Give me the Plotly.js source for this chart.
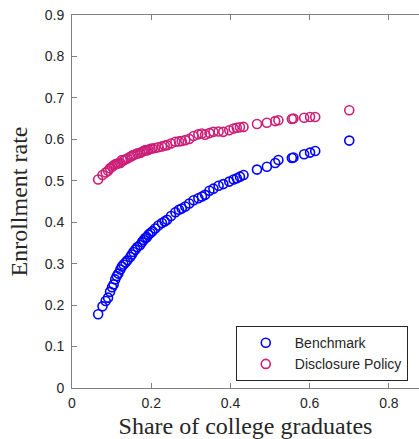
<!DOCTYPE html>
<html>
<head>
<meta charset="utf-8">
<script src="https://cdn.plot.ly/plotly-3.0.1.min.js"></script>
<style>html,body{margin:0;padding:0;background:#fff;}#chart{width:419px;height:439px;}</style>
</head>
<body>
<div id="chart"></div>
<script>
// Share of college graduates (shared by both series)
const shareGrad = [0.066, 0.077, 0.085, 0.091, 0.096, 0.101, 0.105, 0.109, 0.113, 0.117,
  0.122, 0.126, 0.130, 0.135, 0.140, 0.147, 0.151, 0.155, 0.160, 0.165,
  0.172, 0.177, 0.181, 0.185, 0.189, 0.193, 0.198, 0.203, 0.210, 0.218,
  0.227, 0.234, 0.240, 0.250, 0.261, 0.270, 0.277, 0.286, 0.296, 0.307,
  0.319, 0.328, 0.336, 0.347, 0.357, 0.370, 0.382, 0.397, 0.408, 0.416,
  0.424, 0.433, 0.467, 0.492, 0.513, 0.521, 0.555, 0.559, 0.586, 0.601,
  0.614, 0.700];
// Enrollment rate, Benchmark
const benchmark = [0.178, 0.197, 0.210, 0.218, 0.232, 0.243, 0.250, 0.262, 0.270, 0.276,
  0.286, 0.293, 0.298, 0.303, 0.308, 0.316, 0.322, 0.328, 0.334, 0.340,
  0.345, 0.352, 0.357, 0.362, 0.364, 0.370, 0.374, 0.378, 0.385, 0.392,
  0.398, 0.402, 0.406, 0.415, 0.424, 0.430, 0.433, 0.438, 0.445, 0.453,
  0.458, 0.462, 0.466, 0.476, 0.481, 0.488, 0.492, 0.498, 0.503, 0.506,
  0.510, 0.514, 0.527, 0.534, 0.543, 0.550, 0.555, 0.556, 0.564, 0.568,
  0.572, 0.597];
// Enrollment rate, Disclosure Policy
const disclosure = [0.503, 0.514, 0.520, 0.524, 0.530, 0.534, 0.537, 0.540, 0.541, 0.542,
  0.543, 0.550, 0.549, 0.552, 0.554, 0.558, 0.560, 0.562, 0.564, 0.566,
  0.567, 0.570, 0.572, 0.574, 0.573, 0.575, 0.577, 0.578, 0.579, 0.581,
  0.583, 0.585, 0.586, 0.590, 0.594, 0.595, 0.596, 0.598, 0.601, 0.608,
  0.612, 0.614, 0.611, 0.615, 0.618, 0.619, 0.618, 0.622, 0.626, 0.628,
  0.629, 0.630, 0.637, 0.640, 0.644, 0.646, 0.649, 0.650, 0.652, 0.654,
  0.654, 0.670];
const xTicks = [0, 0.2, 0.4, 0.6, 0.8];
const xTickLabels = ['0', '0.2', '0.4', '0.6', '0.8'];
const yTicks = [0, 0.1, 0.2, 0.3, 0.4, 0.5, 0.6, 0.7, 0.8, 0.9];
const yTickLabels = ['0', '0.1', '0.2', '0.3', '0.4', '0.5', '0.6', '0.7', '0.8', '0.9'];

const traces = [
  {x: shareGrad, y: benchmark, name: 'Benchmark', type: 'scatter', mode: 'markers',
   marker: {symbol: 'circle-open', size: 9, color: '#0000ff', line: {width: 1.6, color: '#0000ff'}}},
  {x: shareGrad, y: disclosure, name: 'Disclosure Policy', type: 'scatter', mode: 'markers',
   marker: {symbol: 'circle-open', size: 9, color: '#cc1f78', line: {width: 1.6, color: '#cc1f78'}}}
];
const axisCommon = {
  showline: true, linecolor: '#808080', linewidth: 1,
  ticks: 'inside', ticklen: 5, tickcolor: '#808080', tickwidth: 1,
  showgrid: false, zeroline: false,
  tickfont: {family: 'Liberation Sans, Arial, sans-serif', size: 14, color: '#262626'}
};
const layout = {
  width: 419, height: 439,
  margin: {l: 72, r: 0, t: 15, b: 51},
  paper_bgcolor: '#fff', plot_bgcolor: '#fff',
  xaxis: Object.assign({}, axisCommon, {
    range: [0, 0.876], mirror: 'ticks', tickvals: xTicks, ticktext: xTickLabels,
    ticklabelstandoff: 2,
    title: {text: 'Share of college graduates', standoff: 9,
      font: {family: 'Liberation Serif, serif', size: 24, color: '#262626'}}
  }),
  yaxis: Object.assign({}, axisCommon, {
    range: [0, 0.9], mirror: false, tickvals: yTicks, ticktext: yTickLabels,
    ticklabelstandoff: 4,
    title: {text: 'Enrollment rate', standoff: 10,
      font: {family: 'Liberation Serif, serif', size: 24, color: '#262626'}}
  }),
  showlegend: true,
  legend: {x: 0.472, y: 0.166, xanchor: 'left', yanchor: 'top',
    bgcolor: '#fff', bordercolor: '#262626', borderwidth: 1,
    font: {family: 'Liberation Sans, Arial, sans-serif', size: 14, color: '#262626'},
    itemwidth: 48, tracegroupgap: 0}
};
Plotly.newPlot('chart', traces, layout, {staticPlot: true, displayModeBar: false});
</script>
</body>
</html>
